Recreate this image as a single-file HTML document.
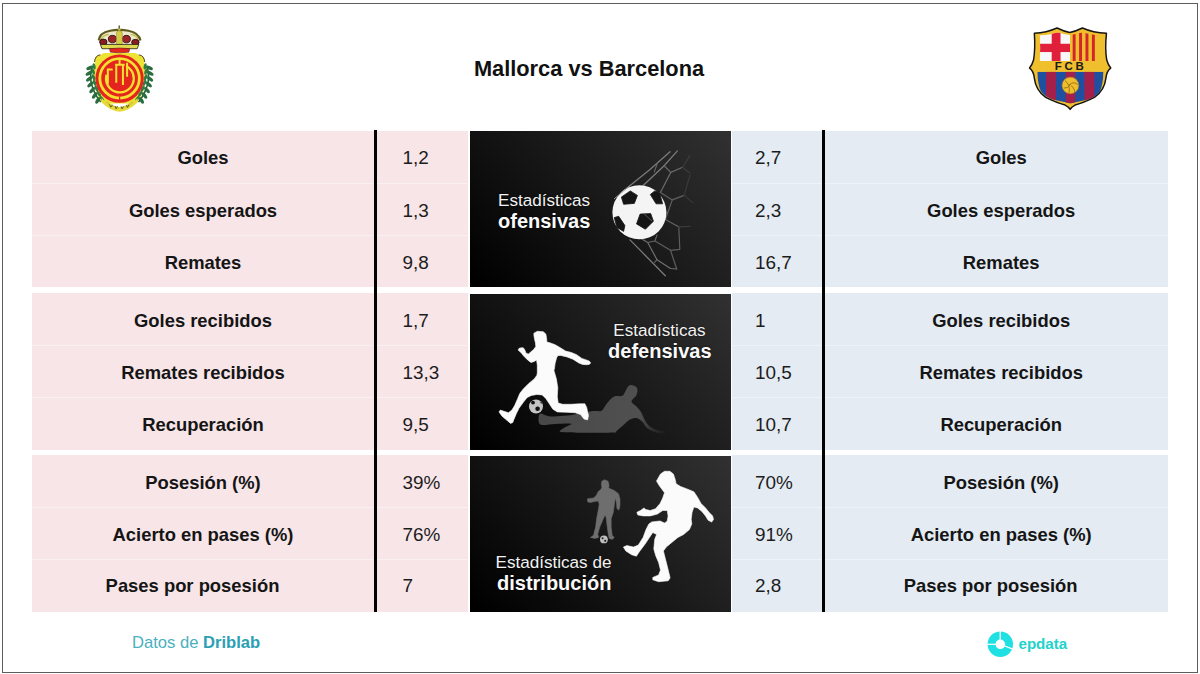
<!DOCTYPE html>
<html lang="es">
<head>
<meta charset="utf-8">
<title>Mallorca vs Barcelona</title>
<style>
*{margin:0;padding:0;box-sizing:border-box}
html,body{width:1200px;height:674px;overflow:hidden;background:#fff}
body{position:relative;font-family:"Liberation Sans",Arial,sans-serif;color:#141414}
.frame{position:absolute;left:2px;top:3px;width:1196px;height:670px;border:1px solid #5c5c5c}
.title{position:absolute;left:389px;top:57.5px;width:400px;text-align:center;font-weight:bold;font-size:21.8px;line-height:1;color:#111;white-space:nowrap}
.bg{position:absolute}
.pk{background:#f7e5e8}
.bl{background:#e4ebf3}
.lab{position:absolute;width:400px;text-align:center;font-weight:bold;font-size:18.4px;line-height:1;color:#151515;white-space:nowrap}
.val{position:absolute;font-size:18.9px;line-height:1;color:#1c1c1c;white-space:nowrap}
.sep{position:absolute;height:1px;background:#fbf0f1}
.vline{position:absolute;background:#000;width:3px}
.foot{position:absolute;left:132px;top:634.5px;font-size:16.6px;color:#4bb0c0;line-height:1;white-space:nowrap}
.foot b{font-weight:bold;color:#2ba0b4}
.pnl{position:absolute;display:block}
.ptx{position:absolute;color:#f2f2f2;line-height:1;white-space:nowrap;text-shadow:0 0 2px rgba(0,0,0,.7)}
.ptx.b{font-weight:bold;color:#fafafa}
.crest{position:absolute;display:block}
.ep{position:absolute;left:1018.5px;top:636px;font-size:15.1px;font-weight:bold;color:#22d2cc;line-height:1;white-space:nowrap}
.sep.sb{background:#eef3f8}
</style>
</head>
<body>
<div class="frame"></div>
<svg class="crest" style="left:1025px;top:22px" width="90" height="90" viewBox="0 0 674 674">
<defs><clipPath id="fcbclip"><path d="M92 372 L588 372 Q585 470 560 520 Q520 570 440 588 Q380 598 340 610 Q300 598 240 588 Q160 570 120 520 Q95 470 92 372 Z"/></clipPath>
<clipPath id="fcbtop"><path d="M110 100 Q200 98 245 75 Q290 92 335 98 Q380 92 430 75 Q480 98 570 100 Q562 200 570 292 L110 292 Q118 200 110 100 Z"/></clipPath></defs>
<path d="M70 85 Q160 80 240 45 Q290 70 335 78 Q380 70 430 45 Q510 80 610 85 Q598 200 612 285 Q622 320 642 345 Q612 365 606 420 Q596 510 520 565 Q440 605 375 622 Q350 635 338 655 Q326 635 300 622 Q235 605 155 565 Q80 510 70 420 Q64 365 34 345 Q54 320 64 285 Q78 200 70 85 Z" fill="#f0bf2e" stroke="#151515" stroke-width="11" stroke-linejoin="round"/>
<g clip-path="url(#fcbtop)">
<rect x="100" y="80" width="237" height="215" fill="#f7f7f7"/>
<rect x="200" y="80" width="66" height="215" fill="#e0203a"/>
<rect x="100" y="163" width="237" height="62" fill="#e0203a"/>
<rect x="337" y="80" width="240" height="215" fill="#f0bf2e"/>
<rect x="357" y="80" width="22" height="215" fill="#d3262c"/>
<rect x="405" y="80" width="22" height="215" fill="#d3262c"/>
<rect x="453" y="80" width="22" height="215" fill="#d3262c"/>
<rect x="501" y="80" width="22" height="215" fill="#d3262c"/>
</g>
<text x="342" y="361" text-anchor="middle" font-family="Liberation Sans, sans-serif" font-weight="bold" font-size="86" letter-spacing="20" fill="#1a1a1a">FCB</text>
<g clip-path="url(#fcbclip)">
<rect x="80" y="360" width="520" height="260" fill="#1f4fa1"/>
<rect x="158" y="360" width="74" height="260" fill="#a51f4b"/>
<rect x="305" y="360" width="70" height="260" fill="#a51f4b"/>
<rect x="445" y="360" width="74" height="260" fill="#a51f4b"/>
</g>
<circle cx="340" cy="475" r="62" fill="#f0bf2e" stroke="#b88a1c" stroke-width="5"/>
<path d="M300 440 Q340 470 330 530 M330 470 Q370 440 395 470 M340 468 Q320 500 290 495 M345 475 Q380 510 370 530" fill="none" stroke="#9b6f14" stroke-width="7"/>
</svg>
<svg class="crest" style="left:75px;top:22px" width="90" height="90" viewBox="0 0 674 674">
<path d="M150 300 Q140 262 175 250 Q200 244 215 232 L453 232 Q468 244 493 250 Q528 262 518 300 Q530 360 526 440 Q518 540 460 610 L208 610 Q150 540 142 440 Q138 360 150 300 Z" fill="#eee232"/>
<path d="M192 600 Q132 520 119 440 Q112 380 132 330" stroke="#24603a" stroke-width="12" fill="none"/>
<path d="M476 600 Q536 520 549 440 Q556 380 536 330" stroke="#24603a" stroke-width="12" fill="none"/>
<ellipse cx="170" cy="587" rx="28" ry="13" transform="rotate(-60 170 587)" fill="#2b6e3d"/><ellipse cx="202" cy="575" rx="24" ry="11" transform="rotate(-125 202 575)" fill="#337a47"/><ellipse cx="147" cy="550" rx="28" ry="13" transform="rotate(-54 147 550)" fill="#2b6e3d"/><ellipse cx="179" cy="538" rx="24" ry="11" transform="rotate(-121 179 538)" fill="#337a47"/><ellipse cx="129" cy="510" rx="28" ry="13" transform="rotate(-48 129 510)" fill="#2b6e3d"/><ellipse cx="161" cy="498" rx="24" ry="11" transform="rotate(-117 161 498)" fill="#337a47"/><ellipse cx="115" cy="468" rx="28" ry="13" transform="rotate(-42 115 468)" fill="#2b6e3d"/><ellipse cx="147" cy="456" rx="24" ry="11" transform="rotate(-113 147 456)" fill="#337a47"/><ellipse cx="107" cy="426" rx="28" ry="13" transform="rotate(-36 107 426)" fill="#2b6e3d"/><ellipse cx="139" cy="414" rx="24" ry="11" transform="rotate(-109 139 414)" fill="#337a47"/><ellipse cx="105" cy="384" rx="28" ry="13" transform="rotate(-30 105 384)" fill="#2b6e3d"/><ellipse cx="137" cy="372" rx="24" ry="11" transform="rotate(-105 137 372)" fill="#337a47"/><ellipse cx="111" cy="344" rx="28" ry="13" transform="rotate(-24 111 344)" fill="#2b6e3d"/><ellipse cx="143" cy="332" rx="24" ry="11" transform="rotate(-101 143 332)" fill="#337a47"/>
<ellipse cx="498" cy="587" rx="28" ry="13" transform="rotate(60 498 587)" fill="#2b6e3d"/><ellipse cx="466" cy="575" rx="24" ry="11" transform="rotate(125 466 575)" fill="#337a47"/><ellipse cx="521" cy="550" rx="28" ry="13" transform="rotate(54 521 550)" fill="#2b6e3d"/><ellipse cx="489" cy="538" rx="24" ry="11" transform="rotate(121 489 538)" fill="#337a47"/><ellipse cx="539" cy="510" rx="28" ry="13" transform="rotate(48 539 510)" fill="#2b6e3d"/><ellipse cx="507" cy="498" rx="24" ry="11" transform="rotate(117 507 498)" fill="#337a47"/><ellipse cx="553" cy="468" rx="28" ry="13" transform="rotate(42 553 468)" fill="#2b6e3d"/><ellipse cx="521" cy="456" rx="24" ry="11" transform="rotate(113 521 456)" fill="#337a47"/><ellipse cx="561" cy="426" rx="28" ry="13" transform="rotate(36 561 426)" fill="#2b6e3d"/><ellipse cx="529" cy="414" rx="24" ry="11" transform="rotate(109 529 414)" fill="#337a47"/><ellipse cx="563" cy="384" rx="28" ry="13" transform="rotate(30 563 384)" fill="#2b6e3d"/><ellipse cx="531" cy="372" rx="24" ry="11" transform="rotate(105 531 372)" fill="#337a47"/><ellipse cx="557" cy="344" rx="28" ry="13" transform="rotate(24 557 344)" fill="#2b6e3d"/><ellipse cx="525" cy="332" rx="24" ry="11" transform="rotate(101 525 332)" fill="#337a47"/>
<path d="M190 246 Q150 250 146 300 M478 246 Q518 250 522 300" stroke="#3a3a1a" stroke-width="7" fill="none"/>
<path d="M200 570 Q260 640 334 655 Q408 640 468 570 L470 600 Q410 665 334 672 Q258 665 198 600 Z" fill="#e8da36"/>
<path d="M230 605 Q280 650 334 655 Q388 650 438 605 L430 590 Q384 635 334 638 Q284 635 238 590 Z" fill="#d9cc34"/>
<path d="M258 618 l10 20 l14 -18 M300 630 l8 20 l10 -20 M345 632 l8 18 l10 -18 M385 622 l8 18 l12 -20" stroke="#4a5a20" stroke-width="7" fill="none"/>
<circle cx="334" cy="424" r="181" fill="#e4251f"/>
<circle cx="334" cy="422" r="148" fill="none" stroke="#f5e02e" stroke-width="21"/>
<path d="M334 560 L334 585" stroke="#e4251f" stroke-width="9"/>
<path d="M382.8 330 A104 104 0 1 1 236 395" fill="none" stroke="#f5e02e" stroke-width="17"/>
<path d="M334 272 L334 320 M300 320 L372 320 M309 320 L309 455 M359 320 L359 472 M390 305 L390 410" fill="none" stroke="#f5e02e" stroke-width="15"/>
<path d="M246 350 L246 462 M240 356 L282 356" fill="none" stroke="#f5e02e" stroke-width="15"/>
<path d="M180 135 Q185 82 262 68 Q305 60 331 62 Q357 60 400 68 Q477 82 488 135 L470 172 L198 172 Z" fill="#ece8cc"/>
<path d="M178 138 Q183 80 262 65 Q305 57 331 59 Q357 57 400 65 Q479 80 490 138" fill="none" stroke="#5f5c1e" stroke-width="16"/>
<path d="M196 136 Q200 100 252 92 M472 136 Q468 100 416 92" fill="none" stroke="#c4ba44" stroke-width="9"/>
<ellipse cx="212" cy="150" rx="28" ry="22" fill="#8a1d22" stroke="#1e0a0a" stroke-width="6"/>
<ellipse cx="280" cy="128" rx="30" ry="28" fill="#9c2428" stroke="#1e0a0a" stroke-width="6"/>
<ellipse cx="385" cy="128" rx="30" ry="28" fill="#9c2428" stroke="#1e0a0a" stroke-width="6"/>
<ellipse cx="452" cy="152" rx="28" ry="22" fill="#8a1d22" stroke="#1e0a0a" stroke-width="6"/>
<rect x="310" y="66" width="44" height="110" rx="20" fill="#d6cc48" stroke="#8c8630" stroke-width="4"/>
<path d="M331 26 L331 60" stroke="#3a3a20" stroke-width="9"/>
<circle cx="331" cy="56" r="10" fill="#c2b448"/>
<path d="M190 168 L478 168 L466 200 L202 200 Z" fill="#e0d850" stroke="#1e1e10" stroke-width="6" stroke-linejoin="round"/>
<path d="M258 200 Q334 188 410 200 L404 226 Q334 236 264 226 Z" fill="#e2261f" stroke="#3a0d0d" stroke-width="3"/>
</svg>
<div class="title">Mallorca vs Barcelona</div>
<div class="bg pk" style="left:32px;top:131px;width:342px;height:156px"></div>
<div class="bg pk" style="left:377px;top:131px;width:91px;height:156px"></div>
<div class="bg bl" style="left:732px;top:131px;width:90px;height:156px"></div>
<div class="bg bl" style="left:825px;top:131px;width:343px;height:156px"></div>
<div class="lab" style="left:3.0px;top:149.42px">Goles</div>
<div class="val" style="left:402.5px;top:149.00px">1,2</div>
<div class="val" style="left:755px;top:149.00px">2,7</div>
<div class="lab" style="left:801.2px;top:149.42px">Goles</div>
<div class="sep" style="left:32px;top:183px;width:436px"></div>
<div class="sep sb" style="left:732px;top:183px;width:436px"></div>
<div class="lab" style="left:3.0px;top:201.92px">Goles esperados</div>
<div class="val" style="left:402.5px;top:201.50px">1,3</div>
<div class="val" style="left:755px;top:201.50px">2,3</div>
<div class="lab" style="left:801.2px;top:201.92px">Goles esperados</div>
<div class="sep" style="left:32px;top:235px;width:436px"></div>
<div class="sep sb" style="left:732px;top:235px;width:436px"></div>
<div class="lab" style="left:3.0px;top:253.92px">Remates</div>
<div class="val" style="left:402.5px;top:253.50px">9,8</div>
<div class="val" style="left:755px;top:253.50px">16,7</div>
<div class="lab" style="left:801.2px;top:253.92px">Remates</div>
<div class="bg pk" style="left:32px;top:293px;width:342px;height:157px"></div>
<div class="bg pk" style="left:377px;top:293px;width:91px;height:157px"></div>
<div class="bg bl" style="left:732px;top:293px;width:90px;height:157px"></div>
<div class="bg bl" style="left:825px;top:293px;width:343px;height:157px"></div>
<div class="lab" style="left:3.0px;top:312.42px">Goles recibidos</div>
<div class="val" style="left:402.5px;top:312.00px">1,7</div>
<div class="val" style="left:755px;top:312.00px">1</div>
<div class="lab" style="left:801.2px;top:312.42px">Goles recibidos</div>
<div class="sep" style="left:32px;top:345px;width:436px"></div>
<div class="sep sb" style="left:732px;top:345px;width:436px"></div>
<div class="lab" style="left:3.0px;top:364.42px">Remates recibidos</div>
<div class="val" style="left:402.5px;top:364.00px">13,3</div>
<div class="val" style="left:755px;top:364.00px">10,5</div>
<div class="lab" style="left:801.2px;top:364.42px">Remates recibidos</div>
<div class="sep" style="left:32px;top:397px;width:436px"></div>
<div class="sep sb" style="left:732px;top:397px;width:436px"></div>
<div class="lab" style="left:3.0px;top:416.42px">Recuperación</div>
<div class="val" style="left:402.5px;top:416.00px">9,5</div>
<div class="val" style="left:755px;top:416.00px">10,7</div>
<div class="lab" style="left:801.2px;top:416.42px">Recuperación</div>
<div class="bg pk" style="left:32px;top:455px;width:342px;height:157px"></div>
<div class="bg pk" style="left:377px;top:455px;width:91px;height:157px"></div>
<div class="bg bl" style="left:732px;top:455px;width:90px;height:157px"></div>
<div class="bg bl" style="left:825px;top:455px;width:343px;height:157px"></div>
<div class="lab" style="left:3.0px;top:474.42px">Posesión (%)</div>
<div class="val" style="left:402.5px;top:474.00px">39%</div>
<div class="val" style="left:755px;top:474.00px">70%</div>
<div class="lab" style="left:801.2px;top:474.42px">Posesión (%)</div>
<div class="sep" style="left:32px;top:507px;width:436px"></div>
<div class="sep sb" style="left:732px;top:507px;width:436px"></div>
<div class="lab" style="left:3.0px;top:526.42px">Acierto en pases (%)</div>
<div class="val" style="left:402.5px;top:526.00px">76%</div>
<div class="val" style="left:755px;top:526.00px">91%</div>
<div class="lab" style="left:801.2px;top:526.42px">Acierto en pases (%)</div>
<div class="sep" style="left:32px;top:559px;width:436px"></div>
<div class="sep sb" style="left:732px;top:559px;width:436px"></div>
<div class="lab" style="left:-7.5px;top:576.92px">Pases por posesión</div>
<div class="val" style="left:402.5px;top:576.50px">7</div>
<div class="val" style="left:755px;top:576.50px">2,8</div>
<div class="lab" style="left:790.7px;top:576.92px">Pases por posesión</div>
<div class="vline" style="left:374px;top:130px;height:482px"></div>
<div class="vline" style="left:822px;top:130px;height:482px"></div>
<svg class="pnl" style="left:470px;top:131px" width="260.5" height="156" viewBox="470 131 260.5 156">
<defs>
<linearGradient id="gbg1" gradientUnits="userSpaceOnUse" x1="470" y1="287" x2="689.1" y2="85.5">
<stop offset="0" stop-color="#000"/><stop offset="0.02" stop-color="#000"/><stop offset="1" stop-color="#313131"/>
</linearGradient>
</defs>
<rect x="470" y="131" width="261" height="156" fill="url(#gbg1)"/>
<path d="M670.0 151.7 L650.0 169.5 L629.8 185.8 L621.0 193.0" fill="none" stroke="#7a7a7a" stroke-width="1.3" stroke-linejoin="round" stroke-linecap="round"/>
<path d="M677.4 150.9 L664.1 165.8 L643.7 185.0 L638.0 190.0" fill="none" stroke="#7a7a7a" stroke-width="1.3" stroke-linejoin="round" stroke-linecap="round"/>
<path d="M657.5 162.9 L654.3 171.9" fill="none" stroke="#6a6a6a" stroke-width="1.1" stroke-linejoin="round" stroke-linecap="round"/>
<path d="M664.1 165.8 L670.8 172.4 L682.6 167.3" fill="none" stroke="#6a6a6a" stroke-width="1.2" stroke-linejoin="round" stroke-linecap="round"/>
<path d="M682.6 167.3 L690.0 155.4" fill="none" stroke="#3c3c3c" stroke-width="1.1" stroke-linejoin="round" stroke-linecap="round"/>
<path d="M682.6 167.3 L690.0 173.2" fill="none" stroke="#3c3c3c" stroke-width="1.1" stroke-linejoin="round" stroke-linecap="round"/>
<path d="M670.8 172.4 L660.4 192.5 L652.0 194.5" fill="none" stroke="#6a6a6a" stroke-width="1.2" stroke-linejoin="round" stroke-linecap="round"/>
<path d="M660.4 192.5 L672.3 199.9 L684.1 195.4" fill="none" stroke="#606060" stroke-width="1.2" stroke-linejoin="round" stroke-linecap="round"/>
<path d="M684.1 195.4 L690.0 175.0" fill="none" stroke="#3a3a3a" stroke-width="1.1" stroke-linejoin="round" stroke-linecap="round"/>
<path d="M684.1 195.4 L693.0 202.9" fill="none" stroke="#3a3a3a" stroke-width="1.1" stroke-linejoin="round" stroke-linecap="round"/>
<path d="M672.3 199.9 L665.3 219.5" fill="none" stroke="#606060" stroke-width="1.2" stroke-linejoin="round" stroke-linecap="round"/>
<path d="M630.0 239.9 L665.3 275.7" fill="none" stroke="#7a7a7a" stroke-width="1.3" stroke-linejoin="round" stroke-linecap="round"/>
<path d="M641.0 238.5 L647.7 242.5 L657.0 259.7 L670.5 268.5 L676.7 269.0" fill="none" stroke="#707070" stroke-width="1.2" stroke-linejoin="round" stroke-linecap="round"/>
<path d="M647.7 242.5 L654.9 241.0 L657.0 235.0" fill="none" stroke="#666" stroke-width="1.1" stroke-linejoin="round" stroke-linecap="round"/>
<path d="M654.9 241.0 L670.5 250.3 L679.8 249.3 L678.8 226.9 L665.3 219.5" fill="none" stroke="#5e5e5e" stroke-width="1.2" stroke-linejoin="round" stroke-linecap="round"/>
<path d="M678.8 226.9 L690.2 226.4" fill="none" stroke="#3a3a3a" stroke-width="1.1" stroke-linejoin="round" stroke-linecap="round"/>
<path d="M670.5 250.3 L676.7 269.0" fill="none" stroke="#5e5e5e" stroke-width="1.2" stroke-linejoin="round" stroke-linecap="round"/>
<path d="M657.0 259.7 L654.5 262.5" fill="none" stroke="#666" stroke-width="1.1" stroke-linejoin="round" stroke-linecap="round"/>
<circle cx="639.4" cy="212.3" r="27" fill="#f4f4f4"/>
<path d="M621.4 197.1 L630.3 190.9 L637.4 195.4 L634.3 203.4 L623.6 204.3 Z" fill="#151515" stroke="#151515" stroke-width="0.8" stroke-linejoin="round"/>
<path d="M650.3 194.5 L654.8 190.9 L659.6 192.7 L662.6 203.8 L656.1 203.8 Z" fill="#151515" stroke="#151515" stroke-width="0.8" stroke-linejoin="round"/>
<path d="M640.1 214.1 L650.7 213.6 L653.4 221.2 L645.4 229.2 L636.5 223.9 Z" fill="#151515" stroke="#151515" stroke-width="0.8" stroke-linejoin="round"/>
<path d="M614.2 217.6 L618.7 216.3 L624.9 225.6 L623.6 231.4 L616.9 227.4 Z" fill="#151515" stroke="#151515" stroke-width="0.8" stroke-linejoin="round"/>
<path d="M629.8 185.8 L614.0 199.0" stroke="#9a9a9a" stroke-width="1" fill="none"/>
<path d="M643.7 213.6 L652.0 221.0" stroke="#555" stroke-width="1" fill="none"/>
</svg>
<div class="ptx" style="left:498px;top:192px;font-size:17.1px">Estadísticas</div>
<div class="ptx b" style="left:498px;top:211px;font-size:20px">ofensivas</div>
<svg class="pnl" style="left:470px;top:294px" width="260.5" height="156" viewBox="470 294 260.5 156">
<defs>
<linearGradient id="gbg2" gradientUnits="userSpaceOnUse" x1="470" y1="450" x2="689.1" y2="248.5">
<stop offset="0" stop-color="#000"/><stop offset="0.02" stop-color="#000"/><stop offset="1" stop-color="#313131"/>
</linearGradient>
</defs>
<rect x="470" y="294" width="261" height="156" fill="url(#gbg2)"/>
<defs><linearGradient id="gray2" gradientUnits="userSpaceOnUse" x1="540" y1="0" x2="668" y2="0"><stop offset="0" stop-color="#484848"/><stop offset="0.55" stop-color="#4e4e4e"/><stop offset="0.78" stop-color="#505050"/><stop offset="0.88" stop-color="#303030"/><stop offset="1" stop-color="#161616"/></linearGradient></defs>
<path d="M631.5 385.0 C632.7 385.1 634.5 385.8 635.5 386.5 C636.5 387.2 637.1 387.7 637.3 389.1 C637.5 390.5 637.5 392.9 636.5 395.0 C635.5 397.1 631.5 399.7 631.5 401.6 C631.5 403.5 635.0 404.9 636.5 406.6 C638.0 408.3 639.6 410.0 640.7 411.6 C641.8 413.2 642.4 414.9 643.2 416.5 C644.0 418.1 644.5 419.8 645.6 421.5 C646.7 423.2 648.0 425.1 649.8 426.5 C651.6 427.9 653.9 429.0 656.4 429.8 C658.9 430.6 662.8 431.0 664.8 431.5 C666.8 432.0 668.5 432.5 668.5 432.8 C668.5 433.1 666.8 433.5 664.8 433.4 C662.8 433.3 658.9 433.0 656.4 432.4 C653.9 431.8 651.6 430.8 649.8 429.8 C648.0 428.8 646.7 427.5 645.5 426.2 C644.3 424.9 644.0 423.4 642.5 422.0 C641.0 420.6 638.6 418.4 636.5 418.0 C634.4 417.6 632.1 418.3 629.9 419.5 C627.7 420.7 625.4 423.3 623.2 425.2 C621.0 427.1 618.2 429.7 616.6 430.9 C615.0 432.1 618.4 432.2 613.3 432.5 C608.2 432.8 594.9 432.8 586.2 432.7 C577.6 432.6 565.0 432.9 561.2 432.1 C557.5 431.3 562.1 429.5 563.8 428.1 C565.4 426.7 572.7 424.4 571.2 423.8 C569.8 423.1 559.8 423.8 555.0 424.0 C550.2 424.2 545.2 425.4 542.5 425.0 C539.8 424.6 539.2 423.8 538.8 421.9 C538.3 420.0 538.3 414.7 540.0 413.8 C541.7 412.8 544.2 415.9 548.8 416.2 C553.3 416.6 560.6 416.4 567.5 415.6 C574.4 414.8 585.4 412.4 590.0 411.6 C594.6 410.9 593.1 411.2 595.0 411.1 C596.9 411.0 599.8 411.7 601.6 410.7 C603.4 409.7 604.4 406.7 605.8 404.9 C607.2 403.1 608.4 401.3 609.9 399.9 C611.4 398.4 612.8 396.9 614.9 396.2 C617.0 395.5 620.5 396.8 622.4 395.8 C624.2 394.8 625.0 391.6 626.0 390.0 C627.0 388.4 627.6 386.8 628.5 386.0 C629.4 385.2 630.3 384.9 631.5 385.0 Z" fill="url(#gray2)"/>
<path d="M533.9 333.2 L537.3 331.3 L543.2 331.7 L545.8 333.9 L546.5 337.6 L546.9 342.1 L549.9 342.8 L555.1 344.7 L559.5 347.3 L565.5 351.0 L571.4 352.5 L576.6 354.7 L581.8 358.4 L586.2 359.9 L589.2 361.0 L590.7 362.9 L589.2 364.4 L586.2 364.7 L582.5 364.4 L578.8 362.9 L572.9 359.2 L567.0 356.9 L561.0 355.5 L558.0 355.5 L556.6 357.7 L555.1 363.6 L554.3 369.6 L553.8 370.0 L556.4 378.9 L557.8 387.8 L557.3 396.7 L558.2 403.0 L562.7 404.3 L570.7 404.3 L579.6 403.8 L584.9 403.8 L586.7 407.4 L587.6 411.9 L588.5 415.4 L587.6 419.9 L584.0 419.0 L580.5 414.5 L575.1 412.7 L566.2 412.3 L557.3 411.9 L552.9 409.2 L549.3 403.8 L545.8 398.5 L542.2 394.9 L536.9 394.5 L531.5 395.4 L527.1 397.6 L523.5 402.1 L519.0 408.3 L516.4 413.6 L513.7 419.9 L512.8 422.5 L510.6 423.4 L507.5 420.8 L502.1 416.3 L499.0 411.9 L500.3 410.1 L508.4 412.7 L511.9 410.1 L514.6 405.6 L517.3 399.4 L519.9 393.2 L523.5 388.7 L528.8 383.4 L534.2 378.9 L536.9 375.3 L537.3 372.5 L537.3 365.1 L536.5 359.9 L534.3 361.4 L531.0 362.5 L527.6 359.9 L523.9 356.2 L520.9 352.5 L518.0 349.9 L519.5 348.0 L523.2 347.7 L524.6 349.5 L526.1 353.2 L528.4 354.0 L533.6 349.5 L535.8 346.6 L535.4 342.8 L534.7 339.9 L533.9 335.4 Z" fill="#fbfbfb" stroke="#fbfbfb" stroke-width="0.6" stroke-linejoin="round"/>
<circle cx="536" cy="406.5" r="7" fill="#c4c4c4"/>
<circle cx="533" cy="402.6" r="1.9" fill="#111"/><circle cx="537.6" cy="408.8" r="2.3" fill="#111"/><circle cx="541.6" cy="402.4" r="1.2" fill="#333"/>
</svg>
<div class="ptx r" style="right:494.5px;top:322px;font-size:17.1px">Estadísticas</div>
<div class="ptx b r" style="right:488.5px;top:341px;font-size:20px">defensivas</div>
<svg class="pnl" style="left:470px;top:456px" width="260.5" height="156" viewBox="470 456 260.5 156">
<defs>
<linearGradient id="gbg3" gradientUnits="userSpaceOnUse" x1="470" y1="612" x2="689.1" y2="410.5">
<stop offset="0" stop-color="#000"/><stop offset="0.02" stop-color="#000"/><stop offset="1" stop-color="#313131"/>
</linearGradient>
</defs>
<rect x="470" y="456" width="261" height="156" fill="url(#gbg3)"/>
<path d="M604.4 479.7 L608.1 481.2 L609.1 485.4 L608.6 488.0 L614.3 490.6 L618.5 493.7 L620.0 498.9 L620.0 505.1 L619.5 508.3 L618.5 510.3 L616.9 508.3 L616.4 502.0 L615.3 497.9 L614.3 505.1 L613.3 512.4 L611.2 518.7 L611.2 527.0 L612.2 535.3 L614.3 537.4 L612.2 539.4 L609.1 538.4 L608.1 533.2 L607.0 524.9 L606.0 516.6 L604.9 515.5 L602.9 519.7 L599.8 527.0 L597.7 534.3 L598.7 537.4 L594.6 538.4 L590.4 537.4 L593.5 535.3 L595.6 527.0 L596.6 518.7 L598.2 510.3 L599.2 504.1 L598.2 501.0 L594.6 501.5 L590.4 502.5 L587.8 502.0 L587.3 498.9 L589.4 498.4 L593.5 497.9 L596.1 495.8 L598.2 491.6 L600.8 489.6 L601.8 487.5 L601.3 484.4 L601.8 481.2 Z" fill="#6e6e6e" stroke="#6e6e6e" stroke-width="0.5" stroke-linejoin="round"/>
<circle cx="603.9" cy="539.4" r="3.9" fill="#bdbdbd"/><circle cx="602.6" cy="538.3" r="1" fill="#222"/><circle cx="605.2" cy="540.8" r="1.1" fill="#222"/>
<path d="M664.5 471.3 L669.9 471.3 L673.4 474.0 L675.2 479.4 L676.1 483.8 L680.6 486.5 L687.7 489.2 L693.9 491.8 L697.5 497.2 L701.0 503.4 L705.5 507.9 L709.0 512.3 L712.6 515.9 L713.5 519.4 L711.7 522.1 L708.2 520.3 L705.5 515.9 L701.9 511.4 L697.5 507.9 L693.9 507.0 L692.1 512.3 L691.2 519.4 L691.8 523.9 L689.4 529.6 L683.6 534.5 L677.9 537.4 L672.1 542.2 L666.3 547.0 L663.4 550.9 L665.3 558.6 L667.3 566.3 L669.2 574.0 L670.1 577.9 L668.2 580.8 L658.6 581.7 L652.8 579.8 L652.8 577.4 L658.6 575.0 L660.5 570.1 L658.6 562.4 L655.7 555.7 L653.8 548.9 L654.7 539.3 L656.6 534.5 L652.8 532.5 L648.9 538.3 L645.1 544.1 L639.3 551.8 L636.4 556.2 L631.6 554.7 L625.8 550.9 L623.4 547.0 L626.8 545.6 L633.5 547.0 L638.3 545.1 L643.1 537.4 L646.0 529.6 L648.9 523.9 L651.8 521.9 L660.0 521.0 L664.5 523.0 L667.2 521.2 L668.1 515.9 L667.2 510.5 L662.7 510.5 L657.4 514.1 L650.3 515.9 L643.2 515.9 L637.8 514.9 L636.9 512.3 L640.5 510.5 L644.0 507.9 L645.8 509.6 L650.3 510.5 L655.6 508.7 L660.1 503.4 L662.7 498.1 L664.5 492.7 L661.9 489.2 L659.2 485.6 L656.5 481.1 L657.4 479.4 L660.5 474.0 Z" fill="#fbfbfb" stroke="#fbfbfb" stroke-width="0.6" stroke-linejoin="round"/>
</svg>
<div class="ptx" style="left:495.5px;top:554px;font-size:17.1px">Estadísticas de</div>
<div class="ptx b" style="left:497px;top:573px;font-size:20px">distribución</div>
<div class="foot">Datos de <b>Driblab</b></div>
<svg class="crest" style="left:985px;top:629px" width="31" height="31" viewBox="985 629 31 31">
<defs><mask id="epm"><rect x="985" y="629" width="31" height="31" fill="#fff"/>
<circle cx="1000.3" cy="644.3" r="4.8" fill="#000"/>
<rect x="999.6" y="629" width="1.2" height="16" fill="#000"/>
<rect x="985" y="643.7" width="16" height="1.2" fill="#000"/>
<rect x="1000" y="643.7" width="16" height="1.2" fill="#000" transform="rotate(21 1000.3 644.3)"/>
</mask></defs>
<circle cx="1000.3" cy="644.3" r="12.7" fill="#1fe0e2" mask="url(#epm)"/>
</svg>
<div class="ep">epdata</div>
</body>
</html>
